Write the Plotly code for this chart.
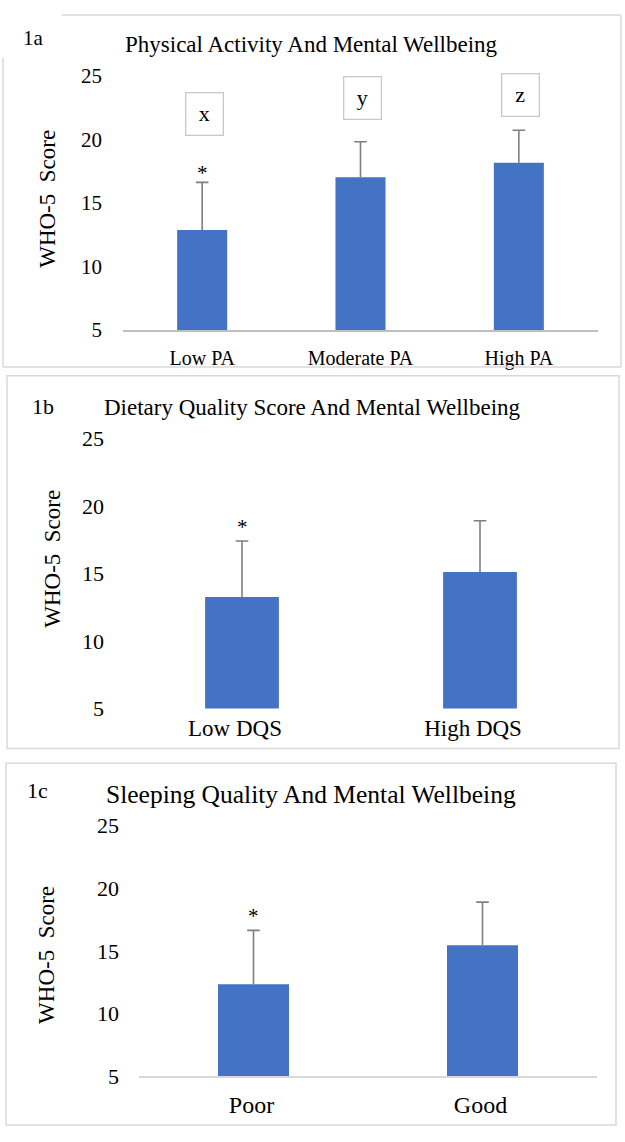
import plotly.graph_objects as go

# ---------------- data ----------------
pa_cats = ["Low PA", "Moderate PA", "High PA"]
pa_mean = [12.85, 17.0, 18.15]
pa_sd = [3.75, 2.8, 2.55]
pa_letters = ["x", "y", "z"]
pa_letter_y = [21.95, 23.2, 23.5]
pa_star_y = 17.3

dqs_cats = ["Low DQS", "High DQS"]
dqs_mean = [13.25, 15.1]
dqs_sd = [4.15, 3.8]
dqs_star_y = 18.45

sq_cats = ["Poor", "Good"]
sq_mean = [12.35, 15.45]
sq_sd = [4.3, 3.45]
sq_star_y = 17.8

y_ticks = [5, 10, 15, 20, 25]

# ---------------- style ----------------
W, H = 625, 1142
FONT = "Liberation Serif, Times New Roman, serif"
BAR = "#4472C4"
ERR = "#7f7f7f"
TXT = "#000000"
BORDER = "#d9d9d9"


def px(x):
    return x / W


def py(y):
    return 1 - y / H


fig = go.Figure()

panels = [
    dict(cats=pa_cats, mean=pa_mean, sd=pa_sd, star=pa_star_y, ax="", xd=(123, 598), yd=(325, 65),
         bw=0.316, xfs=20, xso=9, xsh=0, yfs=21, yso=20, line=True, linecol="#bfbfbf"),
    dict(cats=dqs_cats, mean=dqs_mean, sd=dqs_sd, star=dqs_star_y, ax="2", xd=(123, 599), yd=(712, 436),
         bw=0.31, xfs=23, xso=4, xsh=-7, yfs=22, yso=18, line=False, linecol=BORDER),
    dict(cats=sq_cats, mean=sq_mean, sd=sq_sd, star=sq_star_y, ax="3", xd=(139, 597), yd=(1088, 832),
         bw=0.31, xfs=24, xso=6, xsh=-2, yfs=22, yso=19, line=True, linecol=BORDER),
]

for p in panels:
    xa = "x" + p["ax"]
    ya = "y" + p["ax"]
    tops = [m + s for m, s in zip(p["mean"], p["sd"])]
    fig.add_trace(go.Bar(
        x=p["cats"], y=p["mean"], width=p["bw"], marker=dict(color=BAR, line=dict(width=0)),
        error_y=dict(type="data", symmetric=False, array=p["sd"], arrayminus=[0] * len(p["sd"]),
                     color=ERR, thickness=1.6, width=0),
        xaxis=xa, yaxis=ya, showlegend=False, hoverinfo="skip"))
    fig.add_trace(go.Scatter(
        x=p["cats"], y=tops, mode="markers",
        marker=dict(symbol="line-ew", size=9, line=dict(width=1.6, color=ERR)),
        xaxis=xa, yaxis=ya, showlegend=False, hoverinfo="skip"))
    fig.add_annotation(x=p["cats"][0], y=p["star"], xref=xa, yref=ya, text="*", showarrow=False,
                       xanchor="center", yanchor="middle",
                       font=dict(family=FONT, size=21, color=TXT))

    key = p["ax"]
    fig.layout["xaxis" + key] = dict(
        domain=[px(p["xd"][0]), px(p["xd"][1])], anchor=ya, showgrid=False, zeroline=False,
        showline=p["line"], linecolor=p["linecol"], linewidth=1.5,
        tickfont=dict(family=FONT, size=p["xfs"], color=TXT), ticks="",
        ticklabelstandoff=p["xso"], ticklabelshift=p["xsh"], fixedrange=True)
    fig.layout["yaxis" + key] = dict(
        domain=[py(p["yd"][0]), py(p["yd"][1])], anchor=xa, range=[5, 25], showgrid=False,
        zeroline=False, showline=False, tickvals=y_ticks, ticks="",
        tickfont=dict(family=FONT, size=p["yfs"], color=TXT), ticklabelstandoff=p["yso"],
        fixedrange=True)

# letter boxes in panel 1a
for c, l, yv in zip(pa_cats, pa_letters, pa_letter_y):
    fig.add_annotation(x=c, y=yv, xref="x", yref="y", text=l, showarrow=False, xshift=2,
                       xanchor="center", yanchor="middle",
                       font=dict(family=FONT, size=22, color=TXT), width=36, height=41,
                       bordercolor="#c8c8c8", borderwidth=1.3, borderpad=0, bgcolor="white")

# panel titles, labels, y titles
titles = [
    ("1a", 33, 27, 21, "Physical Activity And Mental Wellbeing", 311, 33, 23, 48, 191),
    ("1b", 43, 403, 22, "Dietary Quality Score And Mental Wellbeing", 312, 404, 23, 53, 559),
    ("1c", 37, 796, 22, "Sleeping Quality And Mental Wellbeing", 311, 800, 25.5, 47, 964),
]
for lab, lx, ly, lfs, t, tx, ty, tfs, yx, yy in titles:
    fig.add_annotation(x=px(lx), y=py(ly), xref="paper", yref="paper", text=lab, showarrow=False,
                       xanchor="center", yanchor="middle",
                       font=dict(family=FONT, size=lfs, color=TXT))
    fig.add_annotation(x=px(tx), y=py(ty), xref="paper", yref="paper", text=t, showarrow=False,
                       xanchor="center", yanchor="middle",
                       font=dict(family=FONT, size=tfs, color=TXT))
    fig.add_annotation(x=px(yx), y=py(yy), xref="paper", yref="paper", text="WHO-5  Score",
                       showarrow=False, textangle=-90, xanchor="center", yanchor="middle",
                       font=dict(family=FONT, size=23, color=TXT))

# panel frames (1a has its top-left corner open, as in the original)
frame_lines = [
    (62, 3, 621, 3), (3, 47, 3, 363), (621, 3, 621, 363), (3, 363, 621, 363),
]
for x0, y0, x1, y1 in frame_lines:
    fig.add_shape(type="line", xref="paper", yref="paper", x0=px(x0), x1=px(x1), y0=py(y0), y1=py(y1),
                  line=dict(color=BORDER, width=1.5))

borders = [(7, 372, 619, 753), (6, 768, 616, 1138)]
for x0, y0, x1, y1 in borders:
    fig.add_shape(type="rect", xref="paper", yref="paper", x0=px(x0), x1=px(x1), y0=py(y0), y1=py(y1),
                  line=dict(color=BORDER, width=1.5), fillcolor="rgba(0,0,0,0)")

fig.update_layout(width=W, height=H, margin=dict(l=0, r=0, t=0, b=0), paper_bgcolor="white",
                  plot_bgcolor="white", showlegend=False)
fig.write_html("out.html", config={"displayModeBar": False},
               post_script="document.body.style.margin='0px';document.body.style.overflow='hidden';")
